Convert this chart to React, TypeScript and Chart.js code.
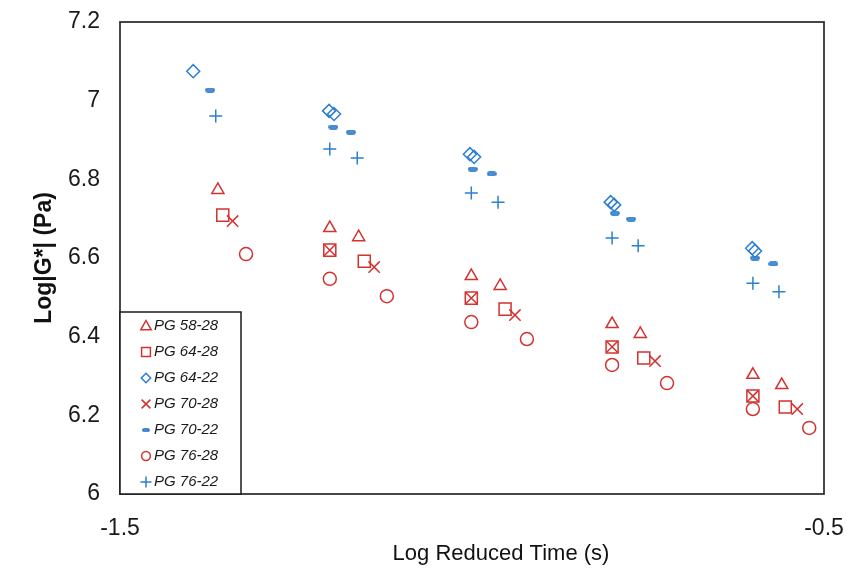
import React, { useEffect, useRef } from 'react';
import { Chart, registerables } from 'chart.js';

Chart.register(...registerables);

const RED = '#d3322f';
const BLUE = '#2d7fcf';
const TEXT = '#1a1a1a';

const xMin = -1.5;
const xMax = -0.5;
const yMin = 6;
const yMax = 7.2;
const yStep = 0.2;
const xTickValues = [-1.5, -0.5];

const xTitle = 'Log Reduced Time (s)';
const yTitle = 'Log|G*| (Pa)';

const pg5828X = [-1.361, -1.202, -1.161, -1.001, -0.96, -0.801, -0.761, -0.601, -0.56];
const pg5828Y = [6.773, 6.676, 6.653, 6.554, 6.529, 6.432, 6.407, 6.303, 6.277];

const pg6428X = [-1.354, -1.202, -1.153, -1.001, -0.953, -0.801, -0.756, -0.601, -0.555];
const pg6428Y = [6.709, 6.62, 6.592, 6.498, 6.47, 6.374, 6.346, 6.249, 6.221];

const pg6422X = [-1.396, -1.203, -1.196, -1.003, -0.997, -0.803, -0.798, -0.602, -0.598];
const pg6422Y = [7.075, 6.974, 6.966, 6.864, 6.857, 6.742, 6.735, 6.625, 6.618];

const pg7028X = [-1.34, -1.202, -1.139, -1.001, -0.939, -0.801, -0.74, -0.601, -0.538];
const pg7028Y = [6.694, 6.62, 6.577, 6.498, 6.455, 6.374, 6.338, 6.249, 6.216];

const pg7022X = [-1.372, -1.197, -1.172, -0.999, -0.972, -0.797, -0.774, -0.598, -0.572];
const pg7022Y = [7.027, 6.933, 6.92, 6.826, 6.814, 6.714, 6.699, 6.6, 6.585];

const pg7628X = [-1.321, -1.202, -1.121, -1.001, -0.922, -0.801, -0.723, -0.601, -0.521];
const pg7628Y = [6.61, 6.547, 6.503, 6.437, 6.394, 6.328, 6.282, 6.216, 6.168];

const pg7622X = [-1.364, -1.202, -1.163, -1.001, -0.963, -0.801, -0.764, -0.601, -0.564];
const pg7622Y = [6.961, 6.877, 6.854, 6.765, 6.742, 6.651, 6.631, 6.536, 6.514];

const seriesNames = ['PG 58-28', 'PG 64-28', 'PG 64-22', 'PG 70-28', 'PG 70-22', 'PG 76-28', 'PG 76-22'];

function zip(xs: number[], ys: number[]) {
  return xs.map((x, i) => ({ x, y: ys[i] }));
}

function makeDash(w: number, h: number) {
  const c = document.createElement('canvas');
  c.width = w;
  c.height = h;
  const g = c.getContext('2d')!;
  g.fillStyle = '#4f95d9';
  g.strokeStyle = '#1f6fbf';
  g.lineWidth = 1.2;
  g.beginPath();
  (g as any).roundRect(0.75, 0.75, w - 1.5, h - 1.5, 1.8);
  g.fill();
  g.stroke();
  return c;
}

function drawMarker(ctx: CanvasRenderingContext2D, kind: string, x: number, y: number, r: number, color: string, dash: HTMLCanvasElement) {
  ctx.save();
  ctx.strokeStyle = color;
  ctx.lineWidth = 1.5;
  ctx.beginPath();
  if (kind === 'triangle') {
    ctx.moveTo(x, y - r);
    ctx.lineTo(x + r * 0.95, y + r * 0.7);
    ctx.lineTo(x - r * 0.95, y + r * 0.7);
    ctx.closePath();
    ctx.stroke();
  } else if (kind === 'rect') {
    ctx.rect(x - r * 0.8, y - r * 0.8, r * 1.6, r * 1.6);
    ctx.stroke();
  } else if (kind === 'rectRot') {
    ctx.moveTo(x, y - r * 0.85);
    ctx.lineTo(x + r * 0.85, y);
    ctx.lineTo(x, y + r * 0.85);
    ctx.lineTo(x - r * 0.85, y);
    ctx.closePath();
    ctx.stroke();
  } else if (kind === 'crossRot') {
    ctx.moveTo(x - r * 0.8, y - r * 0.8);
    ctx.lineTo(x + r * 0.8, y + r * 0.8);
    ctx.moveTo(x + r * 0.8, y - r * 0.8);
    ctx.lineTo(x - r * 0.8, y + r * 0.8);
    ctx.stroke();
  } else if (kind === 'dash') {
    ctx.drawImage(dash, x - dash.width / 2, y - dash.height / 2);
  } else if (kind === 'circle') {
    ctx.arc(x, y, r * 0.8, 0, Math.PI * 2);
    ctx.stroke();
  } else if (kind === 'cross') {
    ctx.moveTo(x - r, y);
    ctx.lineTo(x + r, y);
    ctx.moveTo(x, y - r);
    ctx.lineTo(x, y + r);
    ctx.stroke();
  }
  ctx.restore();
}

export default function App() {
  const ref = useRef<HTMLCanvasElement>(null);

  useEffect(() => {
    if (!ref.current) return;
    const dash = makeDash(10, 5);
    const legendDash = makeDash(8, 4);
    const styles = ['triangle', 'rect', 'rectRot', 'crossRot', 'dash', 'circle', 'cross'];
    const colors = [RED, RED, BLUE, RED, BLUE, RED, BLUE];

    const framePlugin = {
      id: 'frameAndLegend',
      afterDraw(chart: any) {
        const { ctx, chartArea } = chart;
        const { left, right, top, bottom } = chartArea;
        ctx.save();
        ctx.strokeStyle = '#333333';
        ctx.lineWidth = 1.8;
        ctx.strokeRect(left, top, right - left, bottom - top);

        // legend box
        const lx = left;
        const ly = 312;
        const lw = 121;
        const lh = bottom - ly;
        ctx.fillStyle = '#ffffff';
        ctx.fillRect(lx, ly, lw, lh);
        ctx.strokeStyle = '#1a1a1a';
        ctx.lineWidth = 1.5;
        ctx.strokeRect(lx, ly, lw, lh);
        ctx.font = 'italic 15px "Liberation Sans", Arial, sans-serif';
        ctx.textBaseline = 'middle';
        ctx.textAlign = 'left';
        seriesNames.forEach((name, i) => {
          const yy = ly + 14 + i * 26;
          drawMarker(ctx, styles[i], left + 26, yy, 5.5, colors[i], legendDash);
          ctx.fillStyle = TEXT;
          ctx.fillText(name, left + 34, yy);
        });

        // titles
        ctx.fillStyle = '#111';
        ctx.font = '22px "Liberation Sans", Arial, sans-serif';
        ctx.textAlign = 'center';
        ctx.textBaseline = 'middle';
        ctx.fillText(xTitle, 501, 554);
        ctx.save();
        ctx.translate(45, (top + bottom) / 2);
        ctx.rotate(-Math.PI / 2);
        ctx.font = 'bold 23px "Liberation Sans", Arial, sans-serif';
        ctx.fillText(yTitle, 0, 0);
        ctx.restore();
        ctx.restore();
      },
    };

    const mk = (i: number, xs: number[], ys: number[], radius: number) => ({
      label: seriesNames[i],
      data: zip(xs, ys),
      showLine: false,
      pointStyle: styles[i] === 'dash' ? dash : styles[i],
      pointRadius: radius,
      pointBorderColor: colors[i],
      pointBackgroundColor: 'rgba(0,0,0,0)',
      pointBorderWidth: 1.5,
      borderColor: colors[i],
      backgroundColor: 'rgba(0,0,0,0)',
    });

    const tickFont = { size: 23, family: '"Liberation Sans", Arial, sans-serif' };

    const chart = new Chart(ref.current, {
      type: 'scatter',
      data: {
        datasets: [
          mk(0, pg5828X, pg5828Y, 7),
          mk(1, pg6428X, pg6428Y, 8.5),
          mk(2, pg6422X, pg6422Y, 6.5),
          mk(3, pg7028X, pg7028Y, 8),
          mk(4, pg7022X, pg7022Y, 5),
          mk(5, pg7628X, pg7628Y, 6.5),
          mk(6, pg7622X, pg7622Y, 6.5),
        ],
      },
      options: {
        animation: false,
        responsive: false,
        maintainAspectRatio: false,
        layout: { padding: { left: 28, top: 22, right: 23, bottom: 0 } },
        plugins: { legend: { display: false }, tooltip: { enabled: false } },
        scales: {
          x: {
            type: 'linear',
            min: xMin,
            max: xMax,
            afterBuildTicks: (s: any) => {
              s.ticks = xTickValues.map((value) => ({ value }));
            },
            ticks: {
              padding: 13,
              color: TEXT,
              font: tickFont,
              callback: (v: any) => Number(v).toFixed(1),
            },
            grid: { display: false },
            border: { display: false },
            afterFit: (s: any) => {
              s.height = 82;
              s.paddingLeft = 0;
              s.paddingRight = 0;
            },
          },
          y: {
            type: 'linear',
            min: yMin,
            max: yMax,
            ticks: {
              stepSize: yStep,
              padding: 12,
              color: TEXT,
              font: tickFont,
              callback: (v: any) => String(Number(Number(v).toFixed(1))),
            },
            grid: { display: false },
            border: { display: false },
            afterFit: (s: any) => {
              s.width = 92;
              s.paddingTop = 0;
              s.paddingBottom = 0;
            },
          },
        },
      },
      plugins: [framePlugin],
    } as any);
    return () => chart.destroy();
  }, []);

  return (
    <div style={{ position: 'fixed', left: 0, top: 0, width: 847, height: 576, background: '#fff' }}>
      <canvas ref={ref} width={847} height={576} style={{ display: 'block' }} />
    </div>
  );
}
